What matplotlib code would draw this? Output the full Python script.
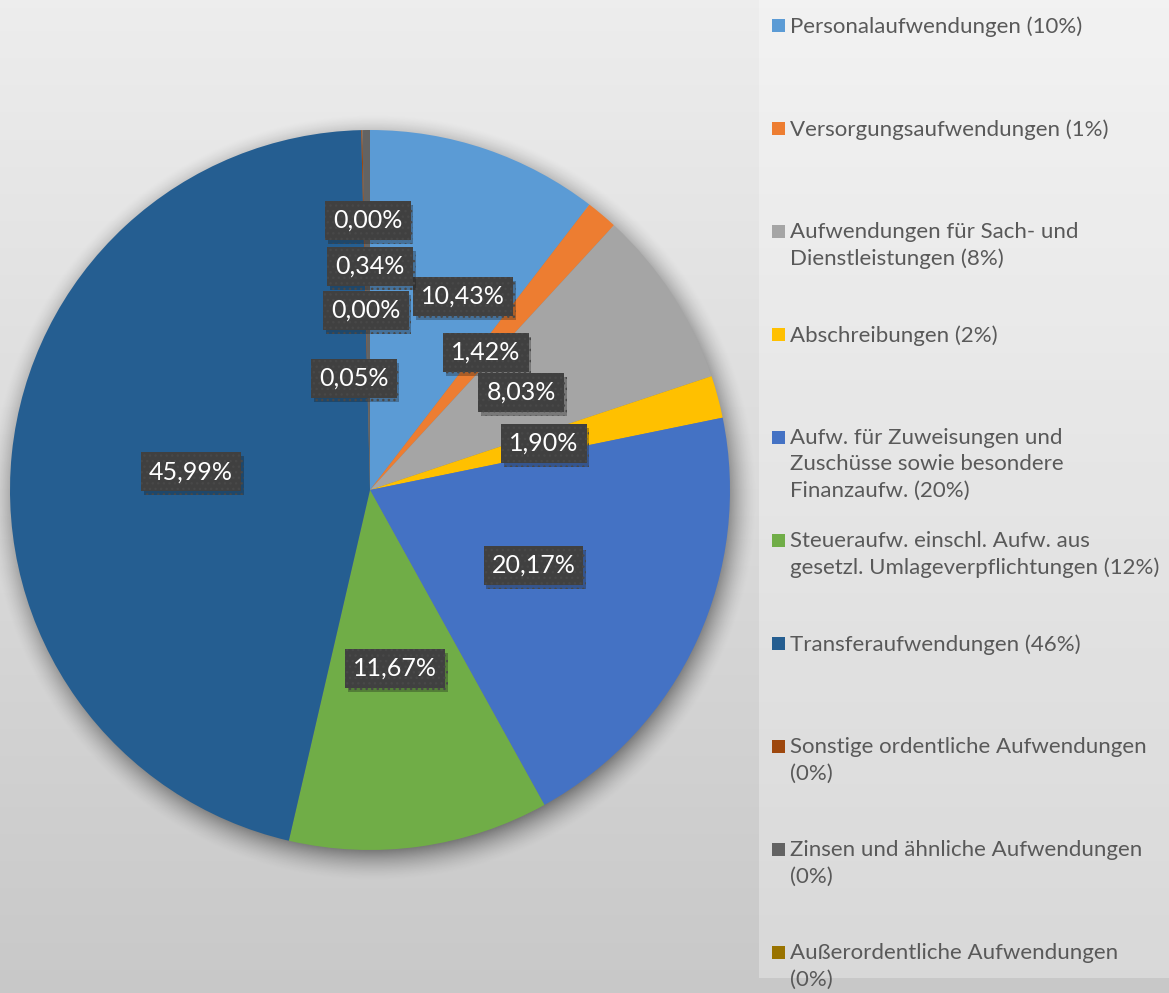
import numpy as np
import matplotlib
matplotlib.use('Agg')
import matplotlib.pyplot as plt
from matplotlib.patches import Rectangle
from matplotlib import patheffects as pe

plt.rcParams['font.family'] = ['Lato', 'DejaVu Sans']

W, H = 1169, 993

# categories (legend text, wrapped like the original)
names = ['Personalaufwendungen',
         'Versorgungsaufwendungen',
         'Aufwendungen für Sach- und\nDienstleistungen',
         'Abschreibungen',
         'Aufw. für Zuweisungen und\nZuschüsse sowie besondere\nFinanzaufw.',
         'Steueraufw. einschl. Aufw. aus\ngesetzl. Umlageverpflichtungen',
         'Transferaufwendungen',
         'Sonstige ordentliche Aufwendungen',
         'Zinsen und ähnliche Aufwendungen',
         'Außerordentliche Aufwendungen']
pct_on_new_line = [False, False, False, False, False, False, False, True, True, True]

# shares in percent (last one is below the cut-off legend)
shares = [10.43, 1.42, 8.03, 1.90, 20.17, 11.67, 45.99, 0.05, 0.34, 0.00, 0.00]
colors = ['#5B9BD5', '#ED7D31', '#A5A5A5', '#FFC000', '#4472C4', '#70AD47',
          '#255E91', '#9E480E', '#636363', '#997300', '#264478']

# pixel nudges for crowded labels (Excel moved these)
nudge = {0: (35, -23), 7: (-12, 68), 8: (2, -44), 9: (-4, 0), 10: (-2, -90)}

cx, cy, R = 370, 490, 360

fig = plt.figure(figsize=(W / 100, H / 100), dpi=100)
ax = fig.add_axes([0, 0, 1, 1])

# background gradient
grad = np.linspace(0, 1, 256)[:, None]
top = np.array([0.93, 0.93, 0.93])
bot = np.array([0.785, 0.785, 0.785])
bg = top + (bot - top) * grad[..., None]
ax.imshow(np.repeat(bg, 4, axis=1), extent=(0, W, 0, H), aspect='auto', zorder=0)

# soft shadow behind the pie
yy, xx = np.mgrid[0:H, 0:W]
d = np.hypot(xx - cx - 3, yy - cy - 7)
a = 0.42 * np.clip((R + 24 - d) / 32, 0, 1) ** 1.6
shadow = np.zeros((H, W, 4))
shadow[..., 3] = a
ax.imshow(shadow, extent=(0, W, 0, H), aspect='auto', zorder=1)

# legend panel
ax.add_patch(Rectangle((759, H - 978), W - 759, 978, facecolor='white', alpha=0.3,
                       edgecolor='none', zorder=1))

wedges, _ = ax.pie(shares, colors=colors, startangle=90, counterclock=False,
                   center=(cx, H - cy), radius=R,
                   wedgeprops=dict(linewidth=0, zorder=3))

for i, w in enumerate(wedges):
    mid = np.deg2rad((w.theta1 + w.theta2) / 2)
    dx, dy = nudge.get(i, (0, 0))
    x = cx + 0.5 * R * np.cos(mid) + dx
    y = (H - cy) + 0.5 * R * np.sin(mid) - dy
    t = ax.text(x, y, f'{shares[i]:.2f}%'.replace('.', ','), color='white',
                fontsize=18, ha='center', va='center', zorder=5,
                bbox=dict(boxstyle='square,pad=0.32', facecolor='#404040',
                          edgecolor='#484848', linewidth=0, hatch='...'))
    t.get_bbox_patch().set_path_effects([pe.SimplePatchShadow(offset=(2, -3), alpha=0.3),
                                         pe.Normal()])

# legend entries, evenly spaced like the original
for i, name in enumerate(names):
    y_px = 26 + 103 * i
    sep = '\n' if pct_on_new_line[i] else ' '
    ax.add_patch(Rectangle((772, H - y_px - 6), 13, 13, facecolor=colors[i],
                           edgecolor='none', zorder=4))
    ax.text(790, H - y_px + 10, f'{name}{sep}({round(shares[i])}%)', color='#595959',
            fontsize=16, ha='left', va='top', linespacing=1.4, zorder=4)

ax.set_xlim(0, W)
ax.set_ylim(0, H)
ax.set_axis_off()

fig.savefig('out.png', dpi=100)
